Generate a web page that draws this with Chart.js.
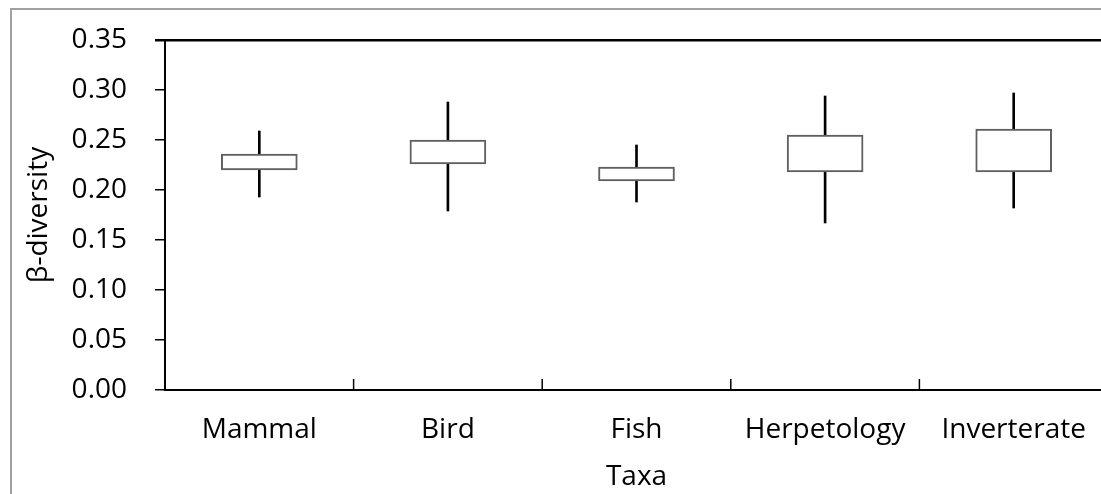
<!DOCTYPE html>
<html>
<head>
<meta charset="utf-8">
<script src="https://cdn.jsdelivr.net/npm/chart.js@4.4.1/dist/chart.umd.min.js"></script>
<style>
  html, body { margin: 0; padding: 0; width: 1101px; height: 494px; overflow: hidden; background: #fff; }
  #wrap { position: absolute; left: 0; top: 0; width: 1130px; height: 494px; }
  #frame { position: absolute; left: 10px; top: 8px; width: 1200px; height: 600px;
           border-left: 2px solid #a0a0a0; border-top: 2px solid #a0a0a0; pointer-events: none; }
</style>
</head>
<body>
<div id="wrap"><canvas id="c" width="1130" height="494"></canvas></div>
<div id="frame"></div>
<script>
const categories = ['Mammal', 'Bird', 'Fish', 'Herpetology', 'Inverterate'];
const whiskerMin = [0.193, 0.179, 0.188, 0.167, 0.182];
const boxQ1      = [0.220, 0.226, 0.209, 0.218, 0.218];
const boxQ3      = [0.236, 0.250, 0.223, 0.255, 0.261];
const whiskerMax = [0.259, 0.288, 0.245, 0.294, 0.297];
const yTicks = [0.00, 0.05, 0.10, 0.15, 0.20, 0.25, 0.30, 0.35];
const xTitle = 'Taxa';
const yTitle = 'β-diversity';

const FONT = 'Open Sans';

const innerTicks = {
  id: 'innerTicks',
  afterDatasetsDraw(chart) {
    const xs = chart.scales.x, ca = chart.chartArea, ctx = chart.ctx;
    ctx.save();
    ctx.strokeStyle = '#000';
    ctx.lineWidth = 1.5;
    for (let i = 1; i < categories.length; i++) {
      const px = (xs.getPixelForValue(i - 1) + xs.getPixelForValue(i)) / 2;
      ctx.beginPath();
      ctx.moveTo(px, ca.bottom);
      ctx.lineTo(px, ca.bottom - 11);
      ctx.stroke();
    }
    ctx.restore();
  }
};

new Chart(document.getElementById('c'), {
  type: 'bar',
  data: {
    labels: categories,
    datasets: [
      {
        label: 'box',
        data: boxQ1.map((q, i) => [q, boxQ3[i]]),
        backgroundColor: '#ffffff',
        borderColor: '#5f5f5f',
        borderWidth: 2,
        borderSkipped: false,
        barThickness: 76,
        grouped: false,
        order: 0
      },
      {
        label: 'whisker',
        data: whiskerMin.map((m, i) => [m, whiskerMax[i]]),
        backgroundColor: '#000000',
        borderWidth: 0,
        barThickness: 2,
        grouped: false,
        order: 1
      }
    ]
  },
  options: {
    responsive: false,
    animation: false,
    devicePixelRatio: 1,
    layout: { padding: { top: 40, right: 22, left: 0, bottom: 0 } },
    plugins: { legend: { display: false }, tooltip: { enabled: false } },
    scales: {
      x: {
        type: 'category',
        offset: true,
        grid: { display: false, drawTicks: false },
        border: { display: true, color: '#000', width: 2 },
        ticks: { color: '#000', font: { family: FONT, size: 28 }, padding: 23, maxRotation: 0, autoSkip: false },
        title: { display: true, text: xTitle, color: '#000', font: { family: FONT, size: 28 }, padding: { top: 0, bottom: 0 } },
        afterFit(s) { s.height = 104; s.paddingLeft = 0; s.paddingRight = 0; }
      },
      y: {
        min: 0,
        max: 0.35,
        afterBuildTicks(s) { s.ticks = yTicks.map(v => ({ value: v })); },
        grid: {
          drawOnChartArea: true,
          drawTicks: true,
          tickLength: 10,
          color: ctx => (ctx.tick && Math.abs(ctx.tick.value - 0.35) < 1e-9) ? '#000' : 'rgba(0,0,0,0)',
          tickColor: '#000',
          lineWidth: ctx => (ctx.tick && Math.abs(ctx.tick.value - 0.35) < 1e-9) ? 2.5 : 1.5
        },
        border: { display: true, color: '#000', width: 2 },
        ticks: {
          color: '#000',
          font: { family: FONT, size: 28 },
          padding: 28,
          callback: v => Number(v).toFixed(2)
        },
        title: { display: true, text: yTitle, color: '#000', font: { family: FONT, size: 28 }, padding: { top: 22, bottom: 0 } },
        afterFit(s) { s.width = 165; s.paddingTop = 0; s.paddingBottom = 0; }
      }
    }
  },
  plugins: [innerTicks]
});
</script>
</body>
</html>
